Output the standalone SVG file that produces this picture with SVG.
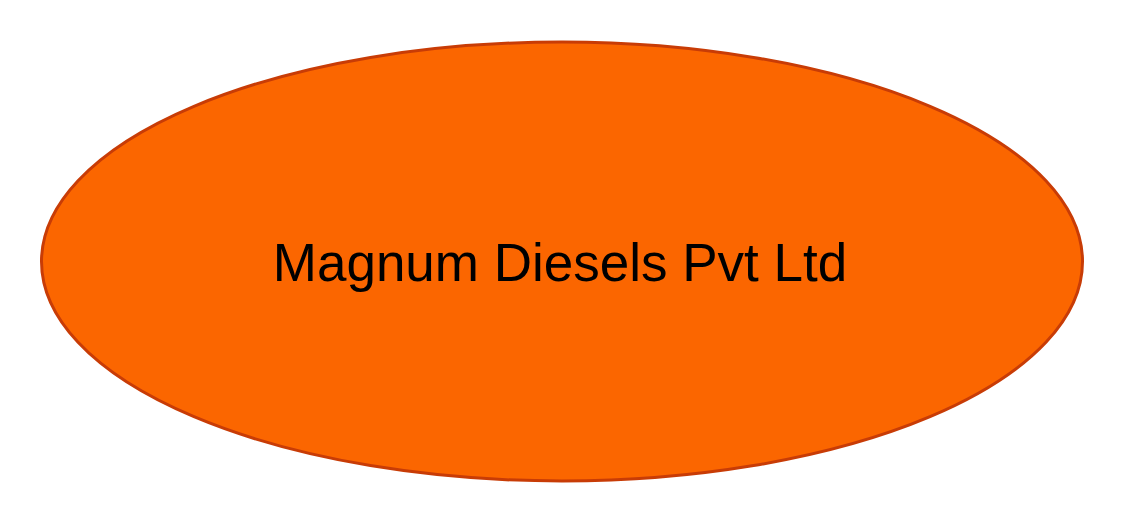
<svg xmlns="http://www.w3.org/2000/svg" width="1128" height="528" viewBox="0 0 1128 528">
<style>
.node-shape{fill:#FB6600;stroke:#C83C06;stroke-width:3}
.label{font-family:"Liberation Sans",Arial,sans-serif;font-size:53px;fill:#000;text-anchor:middle}
</style>
<rect width="1128" height="528" fill="#fff"/>
<g id="node-magnum">
<ellipse class="node-shape" cx="562" cy="261.5" rx="520.5" ry="219.5"/>
<text class="label" x="560" y="281">Magnum Diesels Pvt Ltd</text>
</g>
<g id="connectors"/>
</svg>
